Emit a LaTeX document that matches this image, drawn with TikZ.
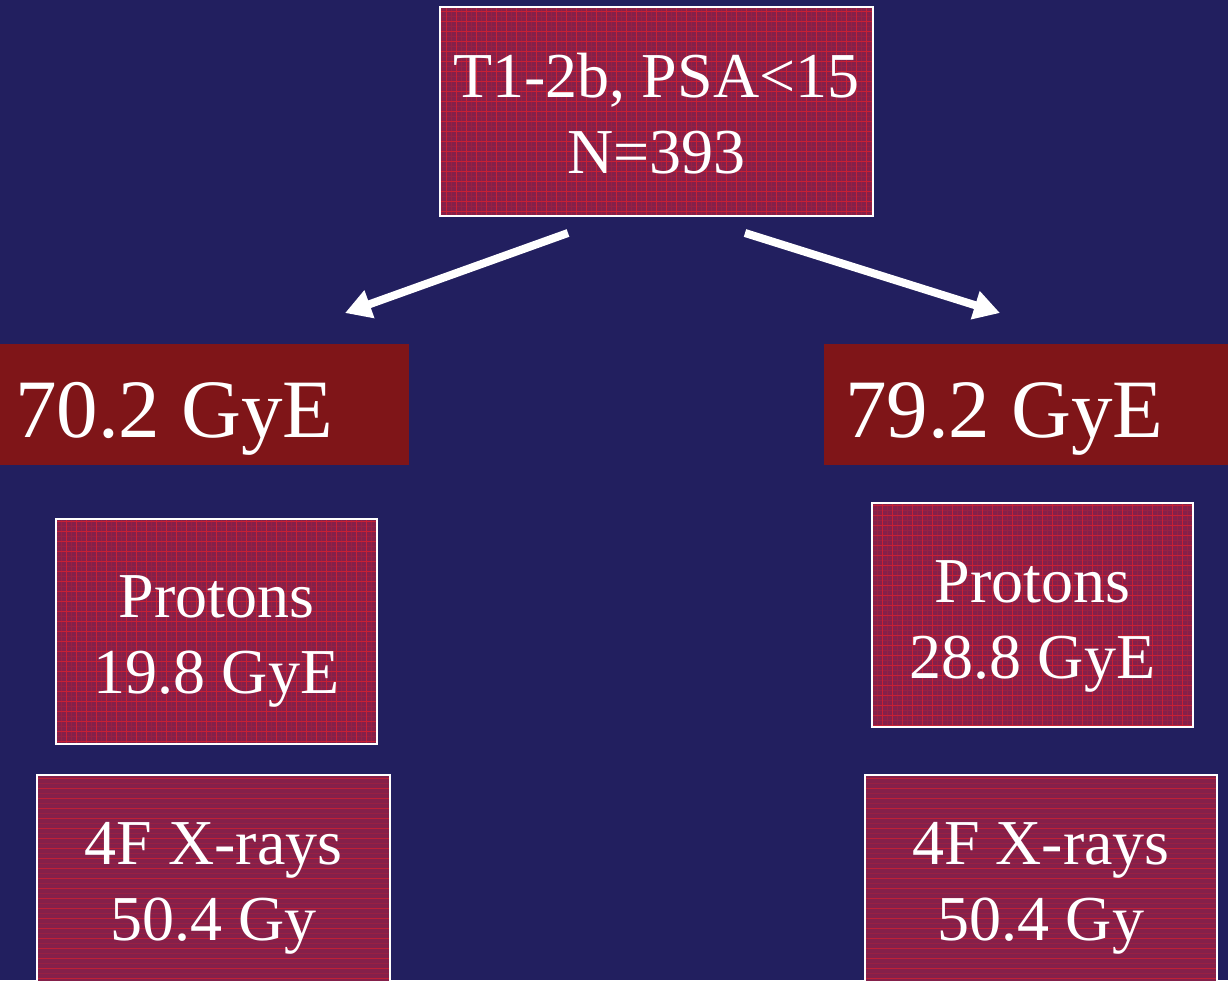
\documentclass[tikz,border=0pt]{standalone}
\usepackage{fontspec}
\setmainfont{Liberation Serif}
\usetikzlibrary{arrows.meta}
\definecolor{navy}{HTML}{221F5F}
\definecolor{boxfill}{HTML}{85204A}
\definecolor{gridred}{HTML}{E8202A}
\definecolor{dosefill}{HTML}{7F1518}
\tikzset{
  boxtext/.style={text=white, font=\fontsize{64}{76}\selectfont, align=center, inner sep=0pt},
  gridbox/.style={fill=boxfill, draw=white, line width=2pt, inner sep=0pt,
    path picture={
      \draw[gridred, line width=0.6pt, opacity=0.2]
        (path picture bounding box.south west) grid[step=5pt] (path picture bounding box.north east);
      \draw[gridred, line width=0.9pt, opacity=0.6]
        (path picture bounding box.south west) grid[step=10pt] (path picture bounding box.north east);
    }},
  stripebox/.style={fill=boxfill, draw=white, line width=2pt, inner sep=0pt,
    path picture={
      \foreach \k in {0,...,24}{
        \draw[gridred, line width=0.9pt, opacity=0.6]
          ([yshift=-\k*10pt-3pt]path picture bounding box.north west) --
          ([yshift=-\k*10pt-3pt]path picture bounding box.north east);
        \draw[gridred, line width=0.6pt, opacity=0.2]
          ([yshift=-\k*10pt-8pt]path picture bounding box.north west) --
          ([yshift=-\k*10pt-8pt]path picture bounding box.north east);
      }
    }},
  dosebox/.style={fill=dosefill, minimum height=121pt, inner sep=0pt},
  dosetext/.style={text=white, font=\fontsize{83}{90}\selectfont, anchor=base west, inner sep=0pt},
  bigarrow/.style={white, line width=8pt, -{Triangle[length=26pt,width=28pt]}}
}
\begin{document}
\begin{tikzpicture}[x=1pt,y=-1pt]
  % page background
  \fill[navy] (0,0) rectangle (1228,980);
  \useasboundingbox (0,0) rectangle (1228,980);

  % cohort
  \node[gridbox, minimum width=433pt, minimum height=209pt] (cohort) at (656.5,111.5) {};
  \node[boxtext] (cohortT) at ([yshift=-2pt]cohort.center) {T1-2b, PSA<15\\N=393};

  % dose arms
  \node[dosebox, minimum width=409pt] (armA) at (204.5,404.5) {};
  \node[dosetext] (armAT) at (15,437) {70.2 GyE};
  \node[dosebox, minimum width=404pt] (armB) at (1026,404.5) {};
  \node[dosetext] (armBT) at (845,437) {79.2 GyE};

  % proton boosts
  \node[gridbox, minimum width=321pt, minimum height=225pt] (protA) at (216.5,631.5) {};
  \node[boxtext] (protAT) at ([yshift=-10pt]protA.center) {Protons\\19.8 GyE};
  \node[gridbox, minimum width=321pt, minimum height=224pt] (protB) at (1032.5,615) {};
  \node[boxtext] (protBT) at ([yshift=-11pt]protB.center) {Protons\\28.8 GyE};

  % photon fields
  \node[stripebox, minimum width=353pt, minimum height=225pt] (xrayA) at (213.5,887.5) {};
  \node[boxtext] (xrayAT) at ([yshift=-1pt]xrayA.center) {4F X-rays\\50.4 Gy};
  \node[stripebox, minimum width=352pt, minimum height=225pt] (xrayB) at (1041,887.5) {};
  \node[boxtext] (xrayBT) at ([yshift=-1pt]xrayB.center) {4F X-rays\\50.4 Gy};

  % arrow ends
  \coordinate (startA) at (568,233);
  \coordinate (endA) at (345,313);
  \coordinate (startB) at (745,233);
  \coordinate (endB) at (1000,313);
  \draw[bigarrow] (startA) -- (endA);
  \draw[bigarrow] (startB) -- (endB);
\end{tikzpicture}
\end{document}
